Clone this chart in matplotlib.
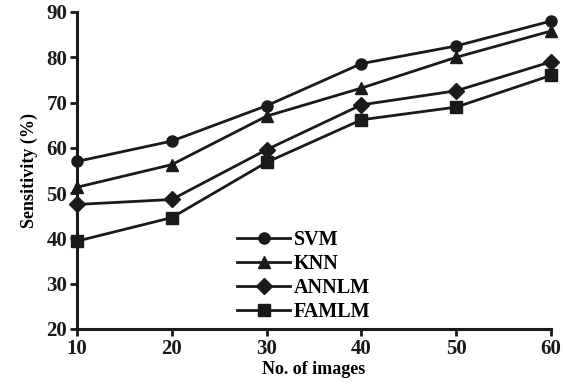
import matplotlib
matplotlib.use("Agg")
import matplotlib.pyplot as plt

plt.rcParams["font.family"] = "Liberation Serif"
plt.rcParams["font.weight"] = "bold"

images = [10, 20, 30, 40, 50, 60]
svm = [57, 61.5, 69.3, 78.6, 82.5, 88]
knn = [51.3, 56.3, 67, 73.2, 80, 85.8]
annlm = [47.5, 48.6, 59.6, 69.5, 72.6, 79]
famlm = [39.4, 44.6, 56.8, 66.2, 69, 76]

fig = plt.figure(figsize=(5.63, 3.85), dpi=100)
ax = fig.add_axes([77 / 563, 1 - 329 / 385, (551 - 77) / 563, (329 - 12) / 385])

style = dict(color="#1a1a1a", linewidth=2.0, markersize=8)
ax.plot(images, svm, marker="o", label="SVM", **style)
ax.plot(images, knn, marker="^", label="KNN", **style)
ax.plot(images, annlm, marker="D", label="ANNLM", **style)
ax.plot(images, famlm, marker="s", label="FAMLM", **style)

ax.set_xlim(10, 60)
ax.set_ylim(20, 90)
ax.set_xticks(images)
ax.set_yticks(range(20, 91, 10))
for side in ["top", "right"]:
    ax.spines[side].set_visible(False)
for side in ["left", "bottom"]:
    ax.spines[side].set_linewidth(2.2)
    ax.spines[side].set_color("#1a1a1a")
ax.tick_params(width=2, length=5, labelsize=15, colors="#1a1a1a", pad=2)
ax.set_xlabel("No. of images", fontsize=13, fontweight="bold", labelpad=2)
ax.set_ylabel("Sensitivity (%)", fontsize=13, fontweight="bold", labelpad=6)
for p in ax.spines.values():
    p.set_clip_on(False)
for ln in ax.lines:
    ln.set_clip_on(False)

ax.legend(loc="lower left", bbox_to_anchor=(0.30, -0.035), frameon=False,
          handlelength=2.6, handletextpad=0.2, labelspacing=0.2,
          prop={"size": 14.5, "weight": "bold"})

fig.savefig("out.png", dpi=100)
